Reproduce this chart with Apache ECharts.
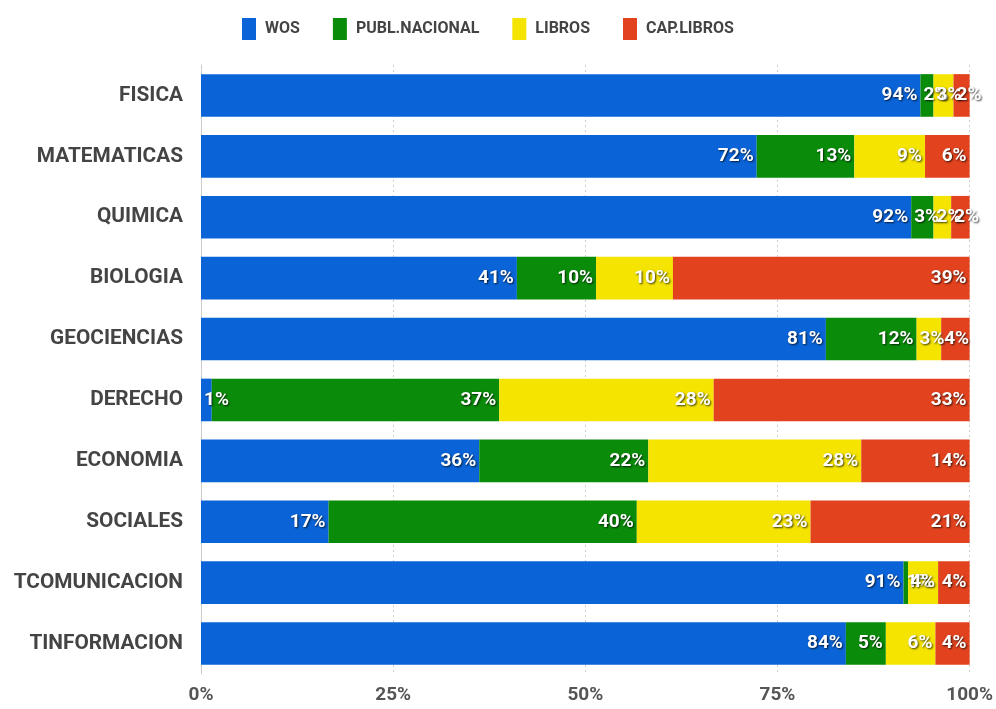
<!DOCTYPE html>
<html>
<head>
<meta charset="utf-8">
<script src="https://cdn.jsdelivr.net/npm/echarts@6/dist/echarts.min.js"></script>
<style>
  html, body { margin: 0; padding: 0; background: #ffffff; }
  #chart { width: 996px; height: 709px; }
</style>
</head>
<body>
<div id="chart"></div>
<script>
  // areas, top to bottom
  const categories = ['FISICA', 'MATEMATICAS', 'QUIMICA', 'BIOLOGIA', 'GEOCIENCIAS',
    'DERECHO', 'ECONOMIA', 'SOCIALES', 'TCOMUNICACION', 'TINFORMACION'];

  // share of each output type (%)
  const wos        = [93.6, 72.3, 92.4, 41.1, 81.3,  1.4, 36.2, 16.6, 91.4, 83.9];
  const publNac    = [ 1.7, 12.7,  2.9, 10.3, 11.8, 37.4, 22.0, 40.1,  0.6,  5.2];
  const libros     = [ 2.6,  9.2,  2.3, 10.0,  3.2, 27.9, 27.7, 22.6,  3.9,  6.45];
  const capLibros  = [ 2.1,  5.8,  2.4, 38.6,  3.7, 33.3, 14.1, 20.7,  4.1,  4.45];

  const xTicks = [0, 25, 50, 75, 100];

  const myChart = echarts.init(document.getElementById('chart'));

  const labelStyle = {
    show: true,
    position: 'insideRight',
    distance: 3,
    color: '#ffffff',
    fontWeight: 'bold',
    fontSize: 19,
    fontFamily: 'Roboto',
    textShadowColor: 'rgba(0,0,0,0.75)',
    textShadowBlur: 2,
    textShadowOffsetX: 1,
    textShadowOffsetY: 1,
    formatter: p => Math.round(p.value) + '%'
  };

  // narrow segments get their label starting at the left edge (it overflows)
  function toItems(data) {
    return data.map(v => {
      if (v < 3.8) {
        return { value: v, label: { position: 'insideLeft' } };
      }
      return v;
    });
  }

  function makeSeries(name, data, color) {
    return {
      name: name,
      type: 'bar',
      stack: 'total',
      barCategoryGap: '30%',
      data: toItems(data),
      itemStyle: { color: color },
      label: labelStyle,
      emphasis: { focus: 'series' }
    };
  }

  const option = {
    animation: false,
    backgroundColor: '#ffffff',
    legend: {
      top: 13,
      left: 237,
      itemWidth: 14,
      itemHeight: 22,
      itemGap: 33,
      icon: 'rect',
      textStyle: {
        color: '#444444',
        fontSize: 16,
        fontWeight: 'bold',
        fontFamily: 'Roboto',
        padding: [0, 0, 0, 4]
      }
    },
    grid: {
      left: 201,
      right: 26,
      top: 65,
      bottom: 35
    },
    xAxis: {
      type: 'value',
      min: xTicks[0],
      max: xTicks[xTicks.length - 1],
      interval: 25,
      axisLine: { show: false },
      axisTick: { show: false },
      splitLine: {
        show: true,
        lineStyle: { color: '#d0d0d0', type: [2, 3] }
      },
      axisLabel: {
        color: '#555555',
        fontSize: 19,
        fontWeight: 'bold',
        fontFamily: 'Roboto',
        margin: 12,
        formatter: v => v + '%'
      }
    },
    yAxis: {
      type: 'category',
      data: categories,
      inverse: true,
      axisLine: { show: true, lineStyle: { color: '#cccccc' } },
      axisTick: { show: false },
      axisLabel: {
        color: '#444444',
        fontSize: 20.8,
        fontWeight: 'bold',
        fontFamily: 'Roboto',
        margin: 18
      }
    },
    series: [
      makeSeries('WOS', wos, '#0a64d8'),
      makeSeries('PUBL.NACIONAL', publNac, '#0a8c0a'),
      makeSeries('LIBROS', libros, '#f5e400'),
      makeSeries('CAP.LIBROS', capLibros, '#e2431e')
    ]
  };

  myChart.setOption(option);
</script>
</body>
</html>
